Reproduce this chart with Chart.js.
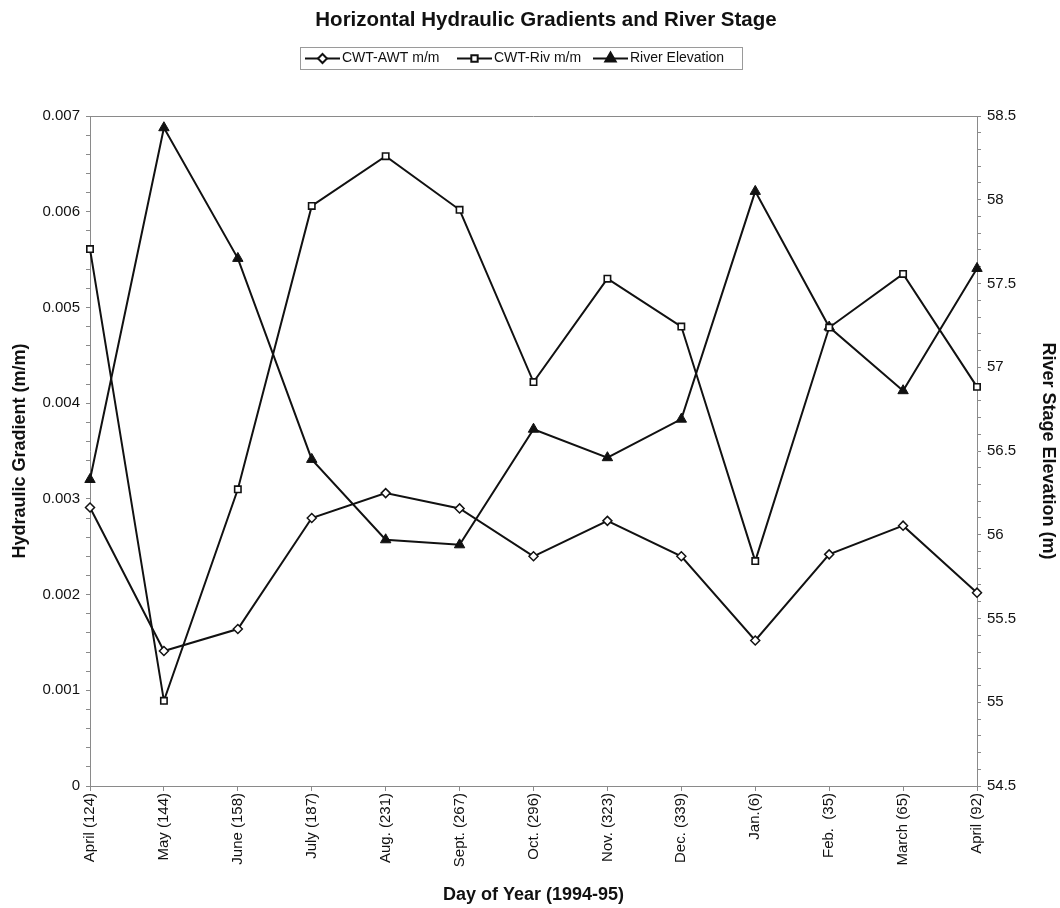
<!DOCTYPE html>
<html>
<head>
<meta charset="utf-8">
<title>Horizontal Hydraulic Gradients and River Stage</title>
<script src="https://cdn.jsdelivr.net/npm/chart.js@4.4.1/dist/chart.umd.min.js"></script>
<style>
  html, body { margin: 0; padding: 0; background: #fff; }
  #wrap { width: 1060px; height: 908px; position: relative; }
</style>
</head>
<body>
<div id="wrap"><canvas id="chart"></canvas></div>
<script>
// Sampling dates (month and day of year), 1994-95
const categories = ['April (124)', 'May (144)', 'June (158)', 'July (187)', 'Aug. (231)', 'Sept. (267)',
  'Oct. (296)', 'Nov. (323)', 'Dec. (339)', 'Jan.(6)', 'Feb.  (35)', 'March (65)', 'April (92)'];

// Hydraulic gradients (m/m)
const cwtAwt = [0.00291, 0.00141, 0.00164, 0.00280, 0.00306, 0.00290, 0.00240, 0.00277, 0.00240, 0.00152, 0.00242, 0.00272, 0.00202];
const cwtRiv = [0.00561, 0.00089, 0.00310, 0.00606, 0.00658, 0.00602, 0.00422, 0.00530, 0.00480, 0.00235, 0.00479, 0.00535, 0.00417];

// River stage elevation (m)
const riverElev = [56.33, 58.43, 57.65, 56.45, 55.97, 55.94, 56.63, 56.46, 56.69, 58.05, 57.24, 56.86, 57.59];

const seriesNames = ['CWT-AWT m/m', 'CWT-Riv m/m', 'River Elevation'];
const chartTitle = 'Horizontal Hydraulic Gradients and River Stage';
const leftTitle = 'Hydraulic Gradient (m/m)';
const rightTitle = 'River Stage Elevation (m)';
const bottomTitle = 'Day of Year (1994-95)';

const FONT = '"Liberation Sans", Arial, Helvetica, sans-serif';
const INK = '#111';
const AXIS = '#8a8a8a';

// Title, boxed legend and top frame line
const decor = {
  id: 'decor',
  afterDraw(chart) {
    const { ctx, chartArea: a } = chart;
    ctx.save();
    ctx.strokeStyle = AXIS;
    ctx.lineWidth = 1;
    ctx.beginPath();
    ctx.moveTo(a.left, Math.round(a.top) + 0.5);
    ctx.lineTo(a.right, Math.round(a.top) + 0.5);
    ctx.stroke();

    ctx.fillStyle = INK;
    ctx.font = 'bold 20.5px ' + FONT;
    ctx.textAlign = 'center';
    ctx.textBaseline = 'middle';
    ctx.fillText(chartTitle, 546, 20);

    // legend box
    ctx.strokeStyle = '#9a9a9a';
    ctx.lineWidth = 1;
    ctx.strokeRect(300.5, 47.5, 442, 22);
    const starts = [305, 457, 593];
    ctx.font = '14px ' + FONT;
    ctx.textAlign = 'left';
    chart.data.datasets.forEach((ds, i) => {
      const x0 = starts[i], y = 58.5;
      ctx.strokeStyle = INK;
      ctx.lineWidth = 2;
      ctx.beginPath();
      ctx.moveTo(x0, y);
      ctx.lineTo(x0 + 35, y);
      ctx.stroke();
      ctx.fillStyle = ds.pointBackgroundColor;
      ctx.strokeStyle = INK;
      Chart.helpers.drawPoint(ctx, {
        pointStyle: ds.pointStyle,
        radius: ds.pointRadius,
        borderWidth: ds.pointBorderWidth,
        rotation: 0
      }, x0 + 17.5, y);
      ctx.fillStyle = INK;
      ctx.fillText(ds.label, x0 + 37, y);
    });
    ctx.restore();
  }
};

const isMultiple = (v, step) => Math.abs(v / step - Math.round(v / step)) < 1e-6;

new Chart(document.getElementById('chart'), {
  type: 'line',
  data: {
    labels: categories,
    datasets: [
      {
        label: seriesNames[0], data: cwtAwt, yAxisID: 'y',
        borderColor: INK, borderWidth: 2, pointStyle: 'rectRot', pointRadius: 4.5,
        pointBorderWidth: 1.5, pointBackgroundColor: '#fff', pointBorderColor: INK, tension: 0
      },
      {
        label: seriesNames[1], data: cwtRiv, yAxisID: 'y',
        borderColor: INK, borderWidth: 2, pointStyle: 'rect', pointRadius: 4.5,
        pointBorderWidth: 1.6, pointBackgroundColor: '#fff', pointBorderColor: INK, tension: 0
      },
      {
        label: seriesNames[2], data: riverElev, yAxisID: 'y2',
        borderColor: INK, borderWidth: 2, pointStyle: 'triangle', pointRadius: 6,
        pointBorderWidth: 1, pointBackgroundColor: INK, pointBorderColor: INK, tension: 0
      }
    ]
  },
  options: {
    responsive: true,
    maintainAspectRatio: false,
    animation: false,
    layout: { padding: { top: 116, left: 0, right: 0, bottom: 0 } },
    plugins: { legend: { display: false }, title: { display: false }, tooltip: { enabled: false } },
    scales: {
      x: {
        type: 'category',
        offset: false,
        grid: { display: true, drawOnChartArea: false, tickLength: 5, color: AXIS },
        border: { color: AXIS, width: 1 },
        ticks: { color: INK, font: { family: FONT, size: 15 }, maxRotation: 90, minRotation: 90, padding: 2, autoSkip: false },
        title: { display: true, text: bottomTitle, color: INK, font: { family: FONT, size: 18, weight: 'bold' }, padding: { top: 0, bottom: 2 } },
        afterFit(s) { s.height = 122; }
      },
      y: {
        position: 'left',
        min: 0, max: 0.007,
        grid: { display: true, drawOnChartArea: false, tickLength: 4, color: AXIS },
        border: { color: AXIS, width: 1 },
        ticks: {
          stepSize: 0.0002, maxTicksLimit: 100, autoSkip: false, padding: 6,
          color: INK, font: { family: FONT, size: 15 },
          callback: v => isMultiple(v, 0.001) ? (Math.abs(v) < 1e-9 ? '0' : v.toFixed(3)) : ''
        },
        title: { display: true, text: leftTitle, color: INK, font: { family: FONT, size: 18, weight: 'bold' }, padding: { top: 9, bottom: 0 } },
        afterFit(s) { s.width = 90; }
      },
      y2: {
        position: 'right',
        min: 54.5, max: 58.5,
        grid: { display: true, drawOnChartArea: false, tickLength: 4, color: AXIS },
        border: { color: AXIS, width: 1 },
        ticks: {
          stepSize: 0.1, maxTicksLimit: 100, autoSkip: false, padding: 6,
          color: INK, font: { family: FONT, size: 15 },
          callback: v => isMultiple(v, 0.5) ? String(+v.toFixed(1)) : ''
        },
        title: { display: true, text: rightTitle, color: INK, font: { family: FONT, size: 18, weight: 'bold' }, padding: { top: 1, bottom: 0 } },
        afterFit(s) { s.width = 83; }
      }
    }
  },
  plugins: [decor]
});
</script>
</body>
</html>
